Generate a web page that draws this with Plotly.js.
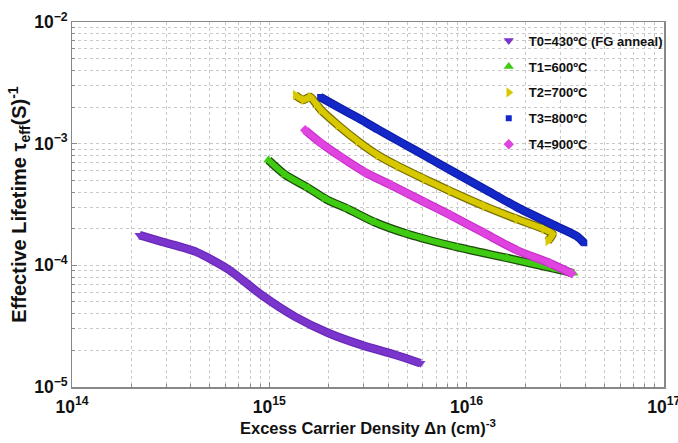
<!DOCTYPE html>
<html>
<head>
<meta charset="utf-8">
<script src="https://cdn.plot.ly/plotly-3.0.1.min.js"></script>
<style>html,body{margin:0;padding:0;background:#fff;}#chart{width:678px;height:443px;}</style>
</head>
<body>
<div id="chart"></div>
<script>
// Excess carrier density (cm^-3) and effective lifetime values
const t0_x = [2.20e14, 2.87e14, 4.26e14, 6.24e14, 9.14e14, 1.355e15, 1.99e15, 2.92e15, 4.33e15, 5.83e15];
const t0_y = [1.77e-4, 1.56e-4, 1.29e-4, 9.2e-5, 5.7e-5, 3.77e-5, 2.78e-5, 2.22e-5, 1.84e-5, 1.57e-5];

const t1_x = [9.9e14, 1.21e15, 1.58e15, 1.94e15, 2.51e15, 3.43e15, 5.02e15, 8.97e15, 1.60e16, 2.86e16, 3.48e16];
const t1_y = [7.33e-4, 5.52e-4, 4.32e-4, 3.50e-4, 2.90e-4, 2.26e-4, 1.81e-4, 1.41e-4, 1.15e-4, 9.3e-5, 8.6e-5];

const t2_x = [1.355e15, 1.49e15, 1.61e15, 1.73e15, 1.83e15, 2.23e15, 2.81e15, 3.55e15, 4.48e15, 6.12e15, 8.26e15, 1.23e16, 1.80e16, 2.46e16, 2.73e16, 2.58e16];
const t2_y = [2.51e-3, 2.29e-3, 2.42e-3, 2.12e-3, 1.89e-3, 1.42e-3, 1.05e-3, 8.05e-4, 6.55e-4, 5.12e-4, 4.08e-4, 3.07e-4, 2.40e-4, 1.99e-4, 1.81e-4, 1.58e-4];

const t3_x = [1.81e15, 2.23e15, 2.81e15, 3.55e15, 4.63e15, 5.64e15, 8.26e15, 1.23e16, 1.80e16, 2.64e16, 3.61e16, 3.95e16];
const t3_y = [2.42e-3, 2.00e-3, 1.63e-3, 1.31e-3, 1.03e-3, 8.61e-4, 6.07e-4, 4.24e-4, 3.01e-4, 2.22e-4, 1.74e-4, 1.52e-4];

const t4_x = [1.52e15, 1.83e15, 2.31e15, 3.05e15, 4.13e15, 6.12e15, 8.26e15, 1.23e16, 1.80e16, 2.64e16, 3.40e16];
const t4_y = [1.29e-3, 1.01e-3, 7.76e-4, 5.83e-4, 4.57e-4, 3.31e-4, 2.59e-4, 1.84e-4, 1.33e-4, 1.04e-4, 8.6e-5];

const seriesNames = ["T0=430ºC (FG anneal)", "T1=600ºC", "T2=700ºC", "T3=800ºC", "T4=900ºC"];

const series = [
  {x: t0_x, y: t0_y, color: "#7a35cc", edge: "#6a28b8", sym: "triangle-down", size: 9},
  {x: t1_x, y: t1_y, color: "#3ecb12", edge: "#1f4a0c", sym: "triangle-up", size: 9},
  {x: t2_x, y: t2_y, color: "#d8c800", edge: "#7a7000", sym: "triangle-right", size: 9},
  {x: t3_x, y: t3_y, color: "#1428c8", edge: "#0e1ea8", sym: "square", size: 6},
  {x: t4_x, y: t4_y, color: "#e044e0", edge: "#c830c8", sym: "diamond", size: 8}
];

const traces = [];
series.forEach((s, i) => {
  const g = "g" + i;
  traces.push({
    x: s.x, y: s.y, type: "scatter", mode: "lines", legendgroup: g,
    line: {color: s.edge, width: 8.5, shape: "spline", smoothing: 0.7},
    showlegend: false, hoverinfo: "skip"
  });
  traces.push({
    x: s.x, y: s.y, type: "scatter", mode: "lines", legendgroup: g,
    line: {color: s.color, width: 6, shape: "spline", smoothing: 0.7},
    showlegend: false, hoverinfo: "skip"
  });
  traces.push({
    x: s.x, y: s.y, type: "scatter", mode: "markers", name: seriesNames[i], legendgroup: g,
    marker: {symbol: s.sym, size: s.size, color: s.color, line: {width: 0}}
  });
});

const gridCol = "#c8c8c8";
const axisFont = {family: "Liberation Sans, Arial, sans-serif", size: 14, color: "#111", weight: "bold"};

const layout = {
  width: 678, height: 443,
  margin: {l: 72, r: 10, t: 22, b: 56},
  paper_bgcolor: "#fff", plot_bgcolor: "#fff",
  showlegend: true,
  legend: {
    x: 0.704, y: 0.99, xanchor: "left", yanchor: "top",
    bgcolor: "rgba(255,255,255,0)", borderwidth: 0,
    font: {family: "Liberation Sans, Arial, sans-serif", size: 13, color: "#111", weight: "bold"},
    tracegroupgap: 6, itemwidth: 30
  },
  xaxis: {
    type: "log", range: [14, 17.0005], dtick: 1, automargin: false,
    exponentformat: "power", showexponent: "all", ticklabeloverflow: "allow",
    tickfont: axisFont, ticklabelstandoff: 4,
    showline: true, linecolor: "#888", linewidth: 1.5, mirror: true,
    ticks: "inside", ticklen: 5, tickcolor: "#888",
    showgrid: true, gridcolor: gridCol, griddash: "dot", gridwidth: 1,
    minor: {showgrid: true, gridcolor: gridCol, griddash: "dot", ticks: "inside", ticklen: 3, tickcolor: "#888"},
    zeroline: false,
    title: {text: "Excess Carrier Density Δn (cm)<sup>-3</sup>", font: {family: "Liberation Sans, Arial, sans-serif", size: 16.5, color: "#111", weight: "bold"}, standoff: 5}
  },
  yaxis: {
    type: "log", range: [-5, -2], dtick: 1, automargin: false,
    exponentformat: "power", showexponent: "all",
    tickfont: axisFont,
    showline: true, linecolor: "#888", linewidth: 1.5, mirror: true,
    ticks: "inside", ticklen: 5, tickcolor: "#888",
    showgrid: true, gridcolor: gridCol, griddash: "dot", gridwidth: 1,
    minor: {showgrid: true, gridcolor: gridCol, griddash: "dot", ticks: "inside", ticklen: 3, tickcolor: "#888"},
    zeroline: false,
    title: {text: "Effective Lifetime τ<sub>eff</sub>(S)<sup>-1</sup>", font: {family: "Liberation Sans, Arial, sans-serif", size: 20, color: "#111", weight: "bold"}, standoff: 2}
  }
};

Plotly.newPlot("chart", traces, layout, {displayModeBar: false, staticPlot: true});
</script>
</body>
</html>
